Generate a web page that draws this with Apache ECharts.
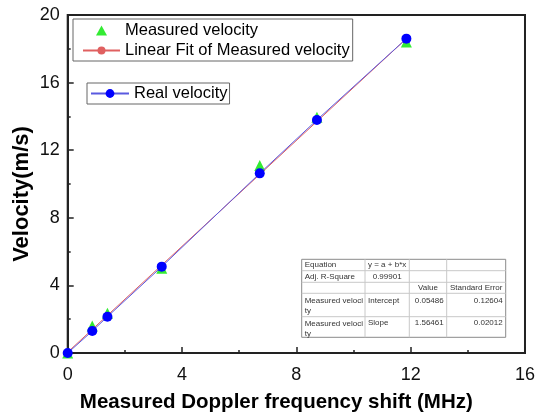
<!DOCTYPE html>
<html>
<head>
    <meta charset="utf-8" />
    <title>Velocity vs Doppler shift</title>
    <script src="https://cdn.jsdelivr.net/npm/echarts@6/dist/echarts.min.js"></script>
    <style>
        html, body { margin: 0; padding: 0; background: #fff; }
    </style>
</head>
<body>
    <div id="chart" style="width:538px;height:419px;"></div>
</body>
</html>
<script>
    // data
    var shiftX = [0, 0.86, 1.39, 3.29, 6.72, 8.72, 11.85];
    var measuredV = [0, 1.6, 2.35, 5.01, 11.1, 13.95, 18.4];
    var realV = [0, 1.3, 2.15, 5.11, 10.63, 13.79, 18.6];
    var fitX = [0, 11.85];
    var fitY = [0.05, 18.6];
    var seriesNames = ['Measured velocity', 'Linear Fit of Measured velocity', 'Real velocity'];

    // fit result table
    var tableText = [
        ['Equation', 'y = a + b*x', '', ''],
        ['Adj. R-Square', '0.99901', '', ''],
        ['', '', 'Value', 'Standard Error'],
        ['Measured veloci\nty', 'Intercept', '0.05486', '0.12604'],
        ['Measured veloci\nty', 'Slope', '1.56461', '0.02012']
    ];
    var tableAlign = [
        ['left', 'left', 'left', 'left'],
        ['left', 'center', 'left', 'left'],
        ['left', 'left', 'center', 'center'],
        ['left', 'left', 'right', 'right'],
        ['left', 'left', 'right', 'right']
    ];
    var colEdges = [301.7, 365, 409.3, 446.7, 505.7];
    var rowEdges = [259.3, 270.7, 282.3, 293.3, 316.7, 337.3];

    var font = "'Liberation Sans', Arial, sans-serif";

    function pairs(xs, ys) {
        var out = [];
        for (var i = 0; i < xs.length; i++) out.push([xs[i], ys[i]]);
        return out;
    }

    function buildTable() {
        var els = [];
        // background + outer border
        els.push({
            type: 'rect',
            shape: { x: colEdges[0], y: rowEdges[0], width: colEdges[4] - colEdges[0], height: rowEdges[5] - rowEdges[0] },
            style: { fill: '#fff', stroke: '#8a8a8a', lineWidth: 1 },
            z: 100
        });
        for (var r = 1; r < rowEdges.length - 1; r++) {
            els.push({
                type: 'line',
                shape: { x1: colEdges[0], y1: rowEdges[r], x2: colEdges[4], y2: rowEdges[r] },
                style: { stroke: '#c8c8c8', lineWidth: 1 },
                z: 101
            });
        }
        for (var c = 1; c < colEdges.length - 1; c++) {
            els.push({
                type: 'line',
                shape: { x1: colEdges[c], y1: rowEdges[0], x2: colEdges[c], y2: rowEdges[5] },
                style: { stroke: '#c8c8c8', lineWidth: 1 },
                z: 101
            });
        }
        for (var i = 0; i < tableText.length; i++) {
            for (var j = 0; j < 4; j++) {
                var t = tableText[i][j];
                if (!t) continue;
                var al = tableAlign[i][j];
                var x = al === 'left' ? colEdges[j] + 3 : (al === 'right' ? colEdges[j + 1] - 3 : (colEdges[j] + colEdges[j + 1]) / 2);
                var multi = t.indexOf('\n') >= 0;
                els.push({
                    type: 'text',
                    style: {
                        text: t,
                        x: x,
                        y: multi ? rowEdges[i] + 2 : (rowEdges[i] + rowEdges[i + 1]) / 2 - (i >= 3 ? 4.5 : 0),
                        align: al,
                        verticalAlign: multi ? 'top' : 'middle',
                        font: '8px ' + font,
                        lineHeight: 10,
                        fill: '#333'
                    },
                    z: 102
                });
            }
        }
        return els;
    }

    var myChart = echarts.init(document.getElementById('chart'));

    var axisCommon = {
        type: 'value',
        nameLocation: 'middle',
        nameMoveOverlap: false,
        axisLine: { show: true, onZero: false, lineStyle: { color: '#222', width: 2 } },
        axisTick: { show: true, inside: true, length: 6, lineStyle: { color: '#222', width: 1.5 } },
        minorTick: { show: true, splitNumber: 2, length: 3, lineStyle: { color: '#222', width: 1.5 } },
        splitLine: { show: false },
        axisLabel: { fontSize: 18, color: '#111', fontFamily: font }
    };

    var legendText = { fontSize: 16.5, color: '#000', fontFamily: font };
    // triangle centred in a 37x10 icon box (zero-length subpaths fix the box)
    var triIcon = 'path://M0,10L0,10M37,10L37,10M13,10L18.5,0L24,10Z';

    var option = {
        animation: false,
        backgroundColor: '#fff',
        grid: {
            left: 67.7, right: 10.3, top: 15, bottom: 66,
            show: true, borderColor: '#222', borderWidth: 2
        },
        xAxis: echarts.util.merge({
            min: 0, max: 16, interval: 4,
            name: 'Measured Doppler frequency shift (MHz)',
            nameGap: 39,
            nameTextStyle: { fontSize: 20.5, fontWeight: 'bold', color: '#000', fontFamily: font, padding: [0, 40, 0, 0] },
            axisLabel: { margin: 13, showMaxLabel: true }
        }, axisCommon),
        yAxis: echarts.util.merge({
            min: 0, max: 20, interval: 4,
            name: 'Velocity(m/s)',
            nameGap: 35,
            nameTextStyle: { fontSize: 22, fontWeight: 'bold', color: '#000', fontFamily: font, padding: [0, 20, 0, 0] },
            axisLabel: { margin: 8 }
        }, axisCommon),
        legend: [
            {
                data: [{ name: seriesNames[0], icon: triIcon }, seriesNames[1]],
                orient: 'vertical',
                left: 73, top: 19,
                padding: [3, 3, 2, 9],
                itemGap: 3,
                itemWidth: 37, itemHeight: 10,
                borderColor: '#666', borderWidth: 1,
                textStyle: legendText
            },
            {
                data: [seriesNames[2]],
                orient: 'vertical',
                left: 87, top: 83,
                padding: [2, 2, 2, 3],
                itemWidth: 38, itemHeight: 11,
                borderColor: '#666', borderWidth: 1,
                textStyle: legendText
            }
        ],
        series: [
            {
                name: seriesNames[0],
                type: 'scatter',
                symbol: 'triangle',
                symbolSize: 11,
                itemStyle: { color: '#00e600' },
                data: pairs(shiftX, measuredV),
                z: 2
            },
            {
                name: seriesNames[1],
                type: 'line',
                symbol: 'none',
                lineStyle: { color: '#e06060', width: 1 },
                itemStyle: { color: '#e06060' },
                data: pairs(fitX, fitY),
                z: 3
            },
            {
                name: seriesNames[2],
                type: 'line',
                symbol: 'circle',
                symbolSize: 10,
                showAllSymbol: true,
                lineStyle: { color: '#5a5ae0', width: 1 },
                itemStyle: { color: '#0000ff' },
                data: pairs(shiftX, realV),
                z: 4
            }
        ],
        graphic: buildTable()
    };

    myChart.setOption(option);
</script>
